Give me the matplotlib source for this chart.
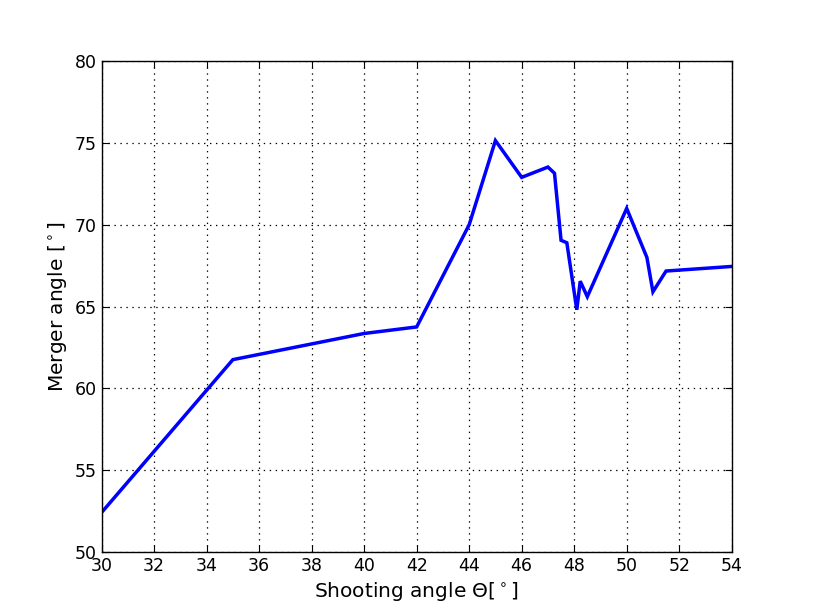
import matplotlib
matplotlib.use('Agg')
import matplotlib.pyplot as plt

plt.rcParams['lines.scale_dashes'] = False

# shooting angle vs merger angle (degrees)
shooting_angle = [30, 35, 40, 42, 44, 45, 46, 47, 47.25, 47.5, 47.72, 48.1, 48.23, 48.5, 50, 50.77, 51, 51.5, 54]
merger_angle = [52.4, 61.75, 63.35, 63.75, 70.0, 75.15, 72.9, 73.53, 73.15, 69.05, 68.9, 64.8, 66.55, 65.6, 71.0, 68.0, 65.9, 67.17, 67.45]

fig = plt.figure(figsize=(8.13, 6.13), dpi=100)
ax = fig.add_axes([0.125, 0.1, 0.775, 0.8])

ax.plot(shooting_angle, merger_angle, color='#0000ff', linewidth=2.5, solid_joinstyle='miter')

ax.set_xlim(30, 54)
ax.set_ylim(50, 80)
ax.set_xticks(range(30, 55, 2))
ax.set_yticks(range(50, 81, 5))
ax.grid(True, color='black', linestyle=(0, (1.0, 3.3)), linewidth=0.9)
ax.tick_params(direction='in', top=True, right=True, labelsize=12.5, length=5)
for s in ax.spines.values():
    s.set_linewidth(1.0)

ax.set_xlabel(r'Shooting angle $\Theta[^\circ]$', fontsize=14.5)
ax.set_ylabel(r'Merger angle $[^\circ]$', fontsize=14.5)

plt.savefig('out.png', dpi=100)
